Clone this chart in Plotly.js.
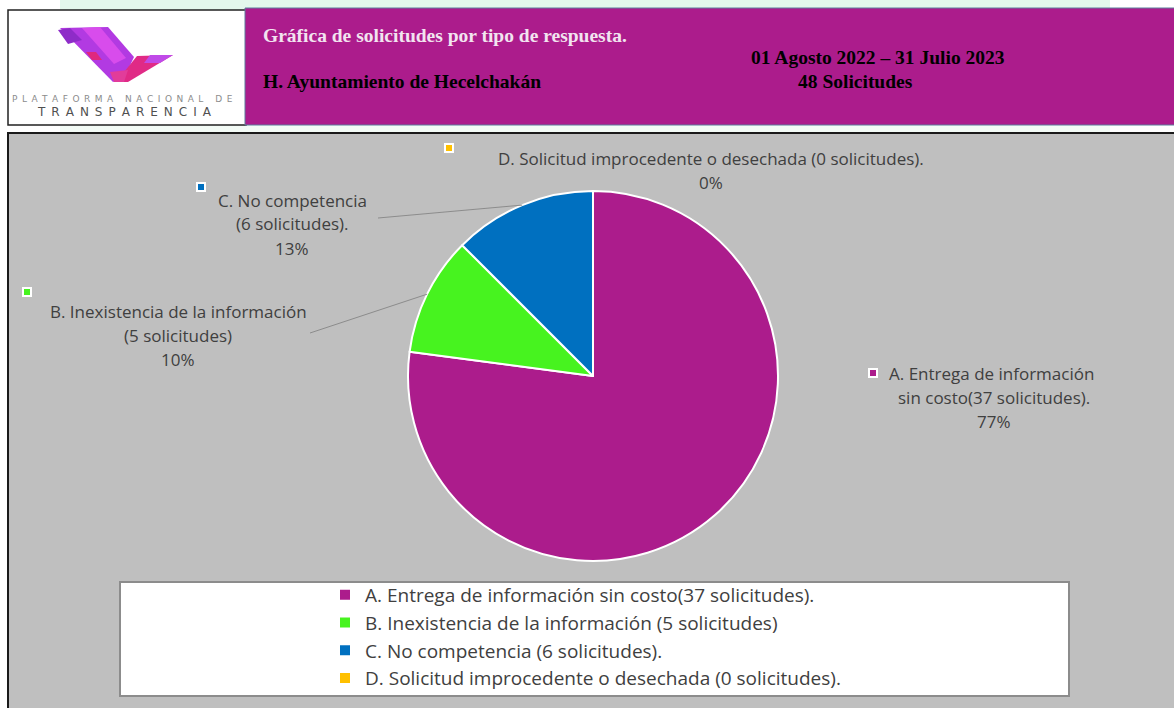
<!DOCTYPE html>
<html><head><meta charset="utf-8">
<script src="https://cdn.plot.ly/plotly-3.0.1.min.js"></script>
<style>html,body{margin:0;padding:0;background:#fff;}#chart{width:1174px;height:708px;}</style>
</head><body><div id="chart"></div>
<script>
// ---------- data ----------
const categories = [
  'A. Entrega de información sin costo(37 solicitudes).',
  'B. Inexistencia de la información (5 solicitudes)',
  'C. No competencia (6 solicitudes).',
  'D. Solicitud improcedente o desechada (0 solicitudes).'
];
const values = [37, 5, 6, 0];
const colors = ['#AC1C8C', '#47F31F', '#0070C0', '#FFC000'];
const labelLines = [
  ['A. Entrega de información', 'sin costo(37 solicitudes).'],
  ['B. Inexistencia de la información', '(5 solicitudes)'],
  ['C. No competencia', '(6 solicitudes).'],
  ['D. Solicitud improcedente o desechada (0 solicitudes).']
];
const titleText = 'Gráfica de solicitudes por tipo de respuesta.';
const entityText = 'H. Ayuntamiento de Hecelchakán';
const periodText = '01 Agosto 2022 – 31 Julio 2023';
const unitText = 'Solicitudes';
const logoLine1 = 'PLATAFORMA NACIONAL DE';
const logoLine2 = 'TRANSPARENCIA';

// ---------- layout helpers ----------
const W = 1174, H = 708;
const px = x => x / W;
const py = y => 1 - y / H;
const total = values.reduce((a, b) => a + b, 0);
const pct = values.map(v => Math.round(v / total * 100) + '%');

const pie = {cx: 593, cy: 376, r: 185};
const font = '"Open Sans", Lato, sans-serif';
const txtColor = '#404040';

// label placement (pixels)
const labelPos = [
  {x: 994, y: 373, mx: 873, my: 373, lx: null},
  {x: 178, y: 311, mx: 27, my: 292, lx: 310, ly: 333},
  {x: 292, y: 200, mx: 201, my: 187, lx: 378, ly: 218},
  {x: 711, y: 158, mx: 449, my: 148, lx: null}
];
const lineGap = 24;

const shapes = [];
const annotations = [];

// page background accents
shapes.push({type: 'rect', xref: 'paper', yref: 'paper', x0: px(60), x1: px(1110), y0: py(0), y1: py(10), fillcolor: '#E3F8EC', line: {width: 0}, layer: 'below'});
shapes.push({type: 'rect', xref: 'paper', yref: 'paper', x0: px(60), x1: px(1110), y0: py(125), y1: py(133), fillcolor: '#F3FBF6', line: {width: 0}, layer: 'below'});
// logo box
shapes.push({type: 'rect', xref: 'paper', yref: 'paper', x0: px(8), x1: px(246), y0: py(10), y1: py(125), fillcolor: '#FFFFFF', line: {color: '#222', width: 1.5}, layer: 'below'});
// header band
shapes.push({type: 'rect', xref: 'paper', yref: 'paper', x0: px(245), x1: px(1176), y0: py(8), y1: py(125), fillcolor: '#AC1C8C', line: {color: '#5C7C9C', width: 1}, layer: 'below'});
// grey panel
shapes.push({type: 'rect', xref: 'paper', yref: 'paper', x0: px(8), x1: px(1180), y0: py(133), y1: py(712), fillcolor: '#BFBFBF', line: {color: '#1A1A1A', width: 2}, layer: 'below'});
// legend box
shapes.push({type: 'rect', xref: 'paper', yref: 'paper', x0: px(120), x1: px(1069), y0: py(582), y1: py(696), fillcolor: '#FFFFFF', line: {color: '#8C8C8C', width: 2}, layer: 'below'});

// logo ribbon
function path(pts) {
  return 'M' + pts.map(p => px(p[0]) + ',' + py(p[1])).join(' L') + ' Z';
}
const logoParts = [
  {pts: [[60, 28], [108, 27], [134, 57], [124, 78], [113, 82]], c: '#B23AE2'},
  {pts: [[58, 30], [70, 28], [82, 40], [68, 44]], c: '#8E2CC8'},
  {pts: [[82, 28], [100, 27], [126, 58], [114, 64]], c: '#D84CEC'},
  {pts: [[86, 52], [96, 52], [102, 60], [92, 60]], c: '#E0287E'},
  {pts: [[116, 82], [137, 56], [173, 55], [128, 82]], c: '#E02A86'},
  {pts: [[150, 55], [173, 55], [160, 63], [144, 63]], c: '#C04AE8'},
  {pts: [[110, 72], [128, 70], [124, 82], [114, 82]], c: '#E23C9A'}
];
logoParts.forEach(p => shapes.push({type: 'path', xref: 'paper', yref: 'paper', path: path(p.pts), fillcolor: p.c, line: {width: 0}, layer: 'below'}));

annotations.push({xref: 'paper', yref: 'paper', x: px(122), y: py(99), text: logoLine1.split('').join('\u2002'), showarrow: false, xanchor: 'center', yanchor: 'middle', font: {family: '"DejaVu Sans", sans-serif', size: 9, color: '#8C8C8C'}});
annotations.push({xref: 'paper', yref: 'paper', x: px(124), y: py(112), text: logoLine2.split('').join('\u2002'), showarrow: false, xanchor: 'center', yanchor: 'middle', font: {family: '"DejaVu Sans", sans-serif', size: 12, color: '#505050'}});

// header texts
const serif = '"Liberation Serif", "Times New Roman", serif';
const hs = 19.5;
annotations.push({xref: 'paper', yref: 'paper', x: px(261), y: py(35), text: '<b>' + titleText + '</b>', showarrow: false, xanchor: 'left', yanchor: 'middle', font: {family: serif, size: hs, color: '#F2E4F0'}});
annotations.push({xref: 'paper', yref: 'paper', x: px(261), y: py(81), text: '<b>' + entityText + '</b>', showarrow: false, xanchor: 'left', yanchor: 'middle', font: {family: serif, size: hs, color: '#000'}});
annotations.push({xref: 'paper', yref: 'paper', x: px(878), y: py(57), text: '<b>' + periodText + '</b>', showarrow: false, xanchor: 'center', yanchor: 'middle', font: {family: serif, size: hs, color: '#000'}});
annotations.push({xref: 'paper', yref: 'paper', x: px(855), y: py(82), text: '<b>' + total + ' ' + unitText + '</b>', showarrow: false, xanchor: 'center', yanchor: 'middle', font: {family: serif, size: hs, color: '#000'}});

// slice labels, markers and leader lines
let cum = 0;
values.forEach((v, i) => {
  const mid = (cum + v / 2) / total * 2 * Math.PI; // clockwise from 12 o'clock
  cum += v;
  const p = labelPos[i];
  const lines = labelLines[i].concat([pct[i]]);
  lines.forEach((t, k) => {
    const isFirstA = (i === 0 && k === 0);
    annotations.push({xref: 'paper', yref: 'paper', x: px(isFirstA ? 887 : p.x), y: py(p.y + k * lineGap), text: t, showarrow: false,
      xanchor: isFirstA ? 'left' : 'center', yanchor: 'middle', font: {family: font, size: 17, color: txtColor}});
  });
  shapes.push({type: 'rect', xref: 'paper', yref: 'paper', x0: px(p.mx - 4), x1: px(p.mx + 4), y0: py(p.my - 4), y1: py(p.my + 4), fillcolor: colors[i], line: {color: '#FFFFFF', width: 2}});
  if (p.lx !== null) {
    const ex = pie.cx + pie.r * Math.sin(mid);
    const ey = pie.cy - pie.r * Math.cos(mid);
    shapes.push({type: 'line', xref: 'paper', yref: 'paper', x0: px(p.lx), y0: py(p.ly), x1: px(ex), y1: py(ey), line: {color: '#8C8C8C', width: 1}});
  }
});

const trace = {
  type: 'pie',
  labels: categories,
  values: values,
  sort: false,
  direction: 'clockwise',
  rotation: 0,
  textinfo: 'none',
  hoverinfo: 'label+value+percent',
  marker: {colors: colors, line: {color: '#FFFFFF', width: 2}},
  domain: {x: [px(pie.cx - pie.r), px(pie.cx + pie.r)], y: [py(pie.cy + pie.r), py(pie.cy - pie.r)]},
  showlegend: true
};

const layout = {
  width: W, height: H,
  margin: {l: 0, r: 0, t: 0, b: 0},
  paper_bgcolor: '#FFFFFF',
  showlegend: true,
  legend: {x: px(325), y: py(576), xanchor: 'left', yanchor: 'top', bgcolor: 'rgba(0,0,0,0)', borderwidth: 0,
    font: {family: font, size: 19, color: txtColor}, traceorder: 'normal'},
  shapes: shapes,
  annotations: annotations
};

Plotly.newPlot('chart', [trace], layout, {displayModeBar: false, staticPlot: true});
</script>
</body></html>
